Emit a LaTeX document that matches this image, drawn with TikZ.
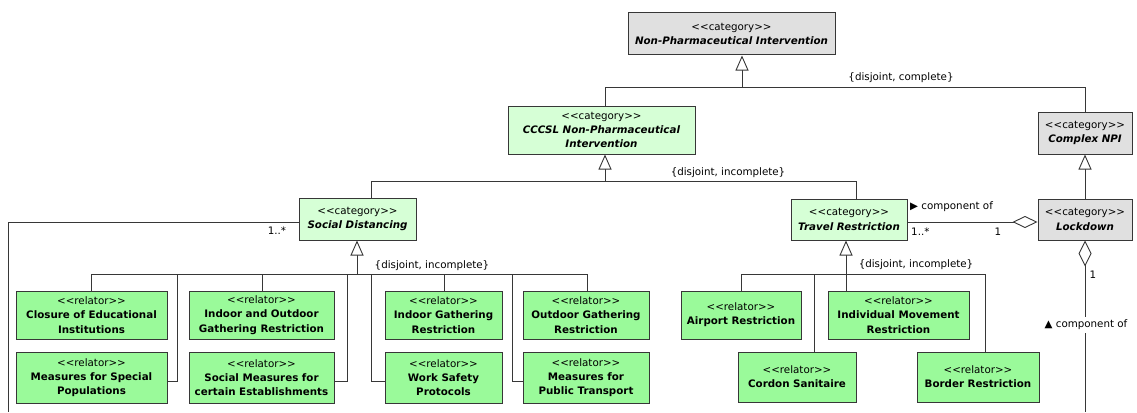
\documentclass[tikz,border=0pt]{standalone}
\usepackage{fontspec}
\setmainfont{DejaVu Sans}
\usetikzlibrary{arrows.meta}
\definecolor{relg}{RGB}{154,250,154}
\definecolor{catg}{RGB}{214,255,214}
\definecolor{catgr}{RGB}{224,224,224}
\definecolor{edgec}{RGB}{55,55,55}
\newcommand\nm[1]{\textbf{#1}}
\newcommand\cn[1]{\textbf{\textit{#1}}}
\newcommand\stt[1]{<{}<#1>{}>}
\begin{document}
\begin{tikzpicture}[x=1pt,y=-1pt,
  box/.style={draw=edgec, line width=1pt, inner sep=0pt, align=center, font=\fontsize{10.3}{14.3}\selectfont},
  rel/.style={box, fill=relg},
  catgreen/.style={box, fill=catg},
  catgray/.style={box, fill=catgr},
  conn/.style={draw=edgec, line width=0.9pt},
  gen/.style={conn, -{Triangle[open, length=15pt, width=13pt, fill=white]}},
  agg/.style={conn, {Diamond[open, length=25pt, width=12pt, fill=white]}-},
  lbl/.style={font=\fontsize{10.3}{12}\selectfont, inner sep=0pt},
]
\useasboundingbox (0,0) rectangle (1137,412);

% ---------- category boxes
\node[catgray, minimum width=207pt, minimum height=42pt] (npi) at (731.5,34)
  {\stt{category}\\\cn{Non-Pharmaceutical Intervention}};
\node[catgreen, minimum width=187pt, minimum height=48pt] (cccsl) at (601.5,130)
  {\stt{category}\\\cn{CCCSL Non-Pharmaceutical}\\\cn{Intervention}};
\node[catgray, minimum width=94pt, minimum height=42pt] (cnpi) at (1085,133)
  {\stt{category}\\\cn{Complex NPI}};
\node[catgreen, minimum width=117pt, minimum height=42pt] (sd) at (357.5,219)
  {\stt{category}\\\cn{Social Distancing}};
\node[catgreen, minimum width=116pt, minimum height=41pt] (tr) at (849,219.5)
  {\stt{category}\\\cn{Travel Restriction}};
\node[catgray, minimum width=94pt, minimum height=41pt] (lock) at (1085,219.5)
  {\stt{category}\\\cn{Lockdown}};

% ---------- relator boxes (social distancing)
\node[rel, minimum width=151pt, minimum height=48pt] (clos) at (91.5,315)
  {\stt{relator}\\\nm{Closure of Educational}\\\nm{Institutions}};
\node[rel, minimum width=145pt, minimum height=48pt] (io) at (261.5,315)
  {\stt{relator}\\\nm{Indoor and Outdoor}\\\nm{Gathering Restriction}};
\node[rel, minimum width=117pt, minimum height=48pt] (ig) at (443.5,315)
  {\stt{relator}\\\nm{Indoor Gathering}\\\nm{Restriction}};
\node[rel, minimum width=126pt, minimum height=48pt] (og) at (586,315)
  {\stt{relator}\\\nm{Outdoor Gathering}\\\nm{Restriction}};
\node[rel, minimum width=151pt, minimum height=51pt] (msp) at (91.5,377.5)
  {\stt{relator}\\\nm{Measures for Special}\\\nm{Populations}};
\node[rel, minimum width=145pt, minimum height=51pt] (sm) at (261.5,377.5)
  {\stt{relator}\\\nm{Social Measures for}\\\nm{certain Establishments}};
\node[rel, minimum width=117pt, minimum height=51pt] (ws) at (443.5,377.5)
  {\stt{relator}\\\nm{Work Safety}\\\nm{Protocols}};
\node[rel, minimum width=126pt, minimum height=51pt] (pt) at (586,377.5)
  {\stt{relator}\\\nm{Measures for}\\\nm{Public Transport}};

% ---------- relator boxes (travel restriction)
\node[rel, minimum width=120pt, minimum height=48pt] (ap) at (741,315)
  {\stt{relator}\\\nm{Airport Restriction}};
\node[rel, minimum width=141pt, minimum height=48pt] (im) at (898.5,315)
  {\stt{relator}\\\nm{Individual Movement}\\\nm{Restriction}};
\node[rel, minimum width=118pt, minimum height=50pt] (cs) at (797,377)
  {\stt{relator}\\\nm{Cordon Sanitaire}};
\node[rel, minimum width=122pt, minimum height=50pt] (br) at (978,377)
  {\stt{relator}\\\nm{Border Restriction}};

% ---------- top generalization set
\coordinate (a0) at (742,87);
\coordinate (aL) at (605,87);
\coordinate (aR) at (1085,87);
\draw[conn] (aL) -- (aR);
\draw[gen] (a0) -- (a0 |- npi.south);
\draw[conn] (aL) -- (aL |- cccsl.north);
\draw[conn] (aR) -- (aR |- cnpi.north);
\node[lbl] (dc) at (901,78) {\{disjoint, complete\}};

% ---------- CCCSL generalization set
\coordinate (b0) at (605,181);
\coordinate (bL) at (371,181);
\coordinate (bR) at (856,181);
\draw[conn] (bL) -- (bR);
\draw[gen] (b0) -- (b0 |- cccsl.south);
\draw[conn] (bL) -- (bL |- sd.north);
\draw[conn] (bR) -- (bR |- tr.north);
\node[lbl] (di1) at (728,173) {\{disjoint, incomplete\}};

% ---------- Complex NPI -> Lockdown
\draw[gen] (lock.north) -- (cnpi.south);

% ---------- Social distancing set
\coordinate (s0) at (357,274);
\coordinate (sL) at (91,274);
\coordinate (sR) at (587,274);
\coordinate (s1) at (177,274);
\coordinate (s2) at (262,274);
\coordinate (s3) at (347,274);
\coordinate (s4) at (371,274);
\coordinate (s5) at (444,274);
\coordinate (s6) at (512,274);
\draw[conn] (sL) -- (sR);
\draw[gen] (s0) -- (s0 |- sd.south);
\draw[conn] (sL) -- (sL |- clos.north);
\draw[conn] (s2) -- (s2 |- io.north);
\draw[conn] (s5) -- (s5 |- ig.north);
\draw[conn] (sR) -- (sR |- og.north);
\draw[conn] (s1) |- ([yshift=-3.5pt]msp.east);
\draw[conn] (s3) |- ([yshift=-3.5pt]sm.east);
\draw[conn] (s4) |- ([yshift=-3.5pt]ws.west);
\draw[conn] (s6) |- ([yshift=-3.5pt]pt.west);
\node[lbl] (di2) at (432,266) {\{disjoint, incomplete\}};

% ---------- Travel restriction set
\coordinate (t0) at (846,274);
\coordinate (tL) at (741,274);
\coordinate (tR) at (985,274);
\coordinate (t1) at (814,274);
\draw[conn] (tL) -- (tR);
\draw[gen] (t0) -- (t0 |- tr.south);
\draw[conn] (t0) -- (t0 |- im.north);
\draw[conn] (tL) -- (tL |- ap.north);
\draw[conn] (t1) -- (t1 |- cs.north);
\draw[conn] (tR) -- (tR |- br.north);
\node[lbl] (di3) at (916,265) {\{disjoint, incomplete\}};

% ---------- associations
\coordinate (bl) at (8,412);
\draw[conn] ([yshift=-3pt]sd.west) -| (bl);
\node[lbl] (m1) at (277,231) {1..*};

\draw[agg] ([yshift=-2.5pt]lock.west) -- ([yshift=-2.5pt]tr.east);
\node[lbl, anchor=west] (c1) at (910,207) {▶ component of};
\node[lbl, anchor=west] (m2) at (911,232) {1..*};
\node[lbl] (m3) at (998,232) {1};

\coordinate (br2) at (1085,412);
\draw[agg, {Diamond[open, length=26pt, width=13pt, fill=white]}-] (lock.south) -- (br2);
\node[lbl] (m4) at (1093,275) {1};
\node[lbl, fill=white, inner ysep=3pt] (c2) at (1086,325) {▲ component of};
\end{tikzpicture}
\end{document}
